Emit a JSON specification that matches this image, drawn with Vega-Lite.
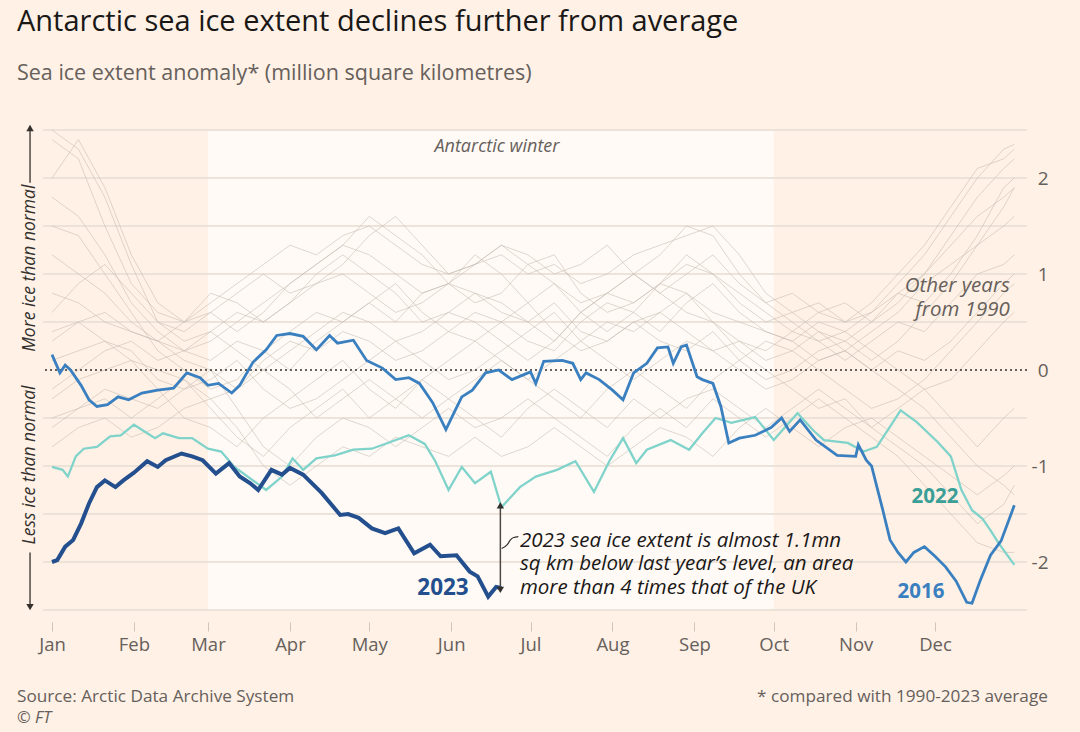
{
  "$schema": "https://vega.github.io/schema/vega-lite/v6.json",
  "width": 984,
  "height": 480,
  "autosize": {"type": "none"},
  "padding": {"left": 43, "top": 130, "right": 53, "bottom": 122},
  "background": "#fff1e5",
  "config": {"view": {"stroke": null}, "font": "Open Sans", "text": {"font": "Open Sans"}},
  "title": {
    "text": "Antarctic sea ice extent declines further from average",
    "subtitle": "Sea ice extent anomaly* (million square kilometres)",
    "anchor": "start", "frame": "group", "dx": -26, "offset": 40,
    "font": "Open Sans", "fontSize": 29, "fontWeight": "normal", "color": "#1a1817",
    "subtitleFont": "Open Sans", "subtitleFontSize": 21.5, "subtitleColor": "#66605c", "subtitlePadding": 26
  },
  "datasets": {
    "winter": [{"s": 59, "e": 273}],
    "grid": [{"v": 2.5}, {"v": 2}, {"v": 1.5}, {"v": 1}, {"v": 0.5}, {"v": -0.5}, {"v": -1}, {"v": -1.5}, {"v": -2}, {"v": -2.5}],
    "grey": [
      {"d":0,"a":2.4,"b":2.5,"c":1.8,"e":1.2,"f":0.8,"g":0.4,"h":0.1,"i":-0.2,"j":-0.5,"k":-0.8,"l":0.6,"m":1.5,"n":-0.3,"o":0.3,"p":2.0,"q":-0.6},
      {"d":10,"a":2.2,"b":2.3,"c":1.6,"e":1.0,"f":0.7,"g":0.5,"h":0.2,"i":0.0,"j":-0.4,"k":-0.6,"l":0.9,"m":1.4,"n":-0.1,"o":0.5,"p":2.4,"q":-0.4},
      {"d":20,"a":1.5,"b":1.8,"c":1.2,"e":0.8,"f":0.5,"g":0.3,"h":0.3,"i":0.2,"j":-0.2,"k":-0.5,"l":1.1,"m":1.0,"n":0.0,"o":0.6,"p":1.9,"q":-0.3},
      {"d":30,"a":0.9,"b":1.1,"c":0.7,"e":0.5,"f":0.4,"g":0.1,"h":0.2,"i":0.3,"j":-0.3,"k":-0.7,"l":0.8,"m":0.6,"n":0.1,"o":0.4,"p":1.2,"q":-0.5},
      {"d":40,"a":0.6,"b":0.5,"c":0.4,"e":0.3,"f":0.3,"g":0.0,"h":-0.1,"i":0.1,"j":-0.4,"k":-0.6,"l":0.5,"m":0.2,"n":-0.2,"o":0.3,"p":0.7,"q":-0.3},
      {"d":50,"a":0.5,"b":0.3,"c":0.2,"e":0.2,"f":0.1,"g":-0.1,"h":-0.2,"i":0.2,"j":-0.2,"k":-0.4,"l":0.4,"m":0.0,"n":-0.5,"o":0.5,"p":0.5,"q":-0.1},
      {"d":60,"a":0.7,"b":0.4,"c":0.3,"e":0.1,"f":0.0,"g":-0.3,"h":-0.1,"i":0.4,"j":0.0,"k":-0.3,"l":0.6,"m":-0.2,"n":-0.6,"o":0.8,"p":0.6,"q":-0.4},
      {"d":70,"a":0.9,"b":0.6,"c":0.5,"e":0.3,"f":-0.2,"g":-0.2,"h":0.1,"i":0.2,"j":-0.4,"k":-0.6,"l":0.8,"m":-0.1,"n":-0.8,"o":0.7,"p":0.4,"q":-0.7},
      {"d":80,"a":1.1,"b":0.5,"c":0.7,"e":0.2,"f":0.1,"g":0.0,"h":-0.2,"i":0.0,"j":-0.8,"k":-1.0,"l":1.0,"m":0.2,"n":-0.5,"o":0.5,"p":0.6,"q":-0.9},
      {"d":90,"a":1.3,"b":0.7,"c":0.9,"e":0.4,"f":0.3,"g":0.2,"h":-0.4,"i":-0.2,"j":-1.0,"k":-1.2,"l":0.8,"m":0.0,"n":-0.3,"o":0.7,"p":0.9,"q":-0.6},
      {"d":100,"a":1.2,"b":0.9,"c":1.1,"e":0.6,"f":0.2,"g":0.4,"h":-0.3,"i":-0.5,"j":-0.7,"k":-1.0,"l":0.9,"m":0.3,"n":-0.1,"o":1.0,"p":1.1,"q":-0.4},
      {"d":110,"a":1.4,"b":1.0,"c":1.3,"e":0.5,"f":0.4,"g":0.6,"h":-0.1,"i":-0.3,"j":-0.5,"k":-0.8,"l":1.1,"m":0.5,"n":0.1,"o":1.2,"p":1.3,"q":-0.2},
      {"d":120,"a":1.5,"b":0.8,"c":1.6,"e":0.7,"f":0.3,"g":0.5,"h":0.1,"i":-0.1,"j":-0.6,"k":-0.9,"l":1.4,"m":0.7,"n":-0.2,"o":1.0,"p":1.2,"q":-0.5},
      {"d":130,"a":1.3,"b":0.6,"c":1.4,"e":0.9,"f":0.1,"g":0.3,"h":0.3,"i":-0.3,"j":-0.8,"k":-0.7,"l":1.6,"m":0.5,"n":-0.4,"o":0.8,"p":1.0,"q":-0.3},
      {"d":140,"a":1.1,"b":0.7,"c":1.2,"e":0.6,"f":0.2,"g":0.4,"h":0.1,"i":-0.5,"j":-0.6,"k":-0.8,"l":1.3,"m":0.8,"n":-0.1,"o":0.5,"p":0.8,"q":-0.1},
      {"d":150,"a":1.0,"b":0.9,"c":0.9,"e":0.4,"f":0.4,"g":0.6,"h":-0.1,"i":-0.3,"j":-0.4,"k":-0.9,"l":1.0,"m":0.9,"n":0.1,"o":0.6,"p":0.9,"q":-0.3},
      {"d":160,"a":1.1,"b":0.8,"c":0.7,"e":0.3,"f":0.6,"g":0.5,"h":0.0,"i":-0.1,"j":-0.6,"k":-0.7,"l":1.1,"m":1.2,"n":0.3,"o":0.8,"p":1.1,"q":-0.5},
      {"d":170,"a":1.2,"b":0.6,"c":0.8,"e":0.5,"f":0.5,"g":0.3,"h":0.2,"i":0.1,"j":-0.5,"k":-0.9,"l":1.3,"m":1.0,"n":0.1,"o":0.7,"p":1.3,"q":-0.7},
      {"d":180,"a":1.0,"b":0.5,"c":1.1,"e":0.7,"f":0.3,"g":0.1,"h":0.4,"i":-0.1,"j":-0.3,"k":-0.8,"l":1.2,"m":0.7,"n":-0.1,"o":0.5,"p":1.1,"q":-0.4},
      {"d":190,"a":1.1,"b":0.7,"c":1.2,"e":0.4,"f":0.2,"g":0.3,"h":0.6,"i":-0.3,"j":-0.5,"k":-0.6,"l":1.0,"m":0.9,"n":0.1,"o":0.3,"p":0.9,"q":-0.2},
      {"d":200,"a":0.9,"b":0.4,"c":0.8,"e":0.2,"f":0.5,"g":0.6,"h":0.3,"i":-0.5,"j":-0.7,"k":-0.8,"l":1.1,"m":0.6,"n":0.3,"o":0.6,"p":0.7,"q":-0.4},
      {"d":210,"a":1.0,"b":0.3,"c":0.6,"e":0.3,"f":0.7,"g":0.8,"h":0.1,"i":-0.2,"j":-0.9,"k":-1.0,"l":1.3,"m":0.4,"n":0.5,"o":0.8,"p":0.8,"q":-0.6},
      {"d":220,"a":1.2,"b":0.5,"c":0.7,"e":0.5,"f":0.6,"g":1.0,"h":-0.1,"i":0.0,"j":-0.6,"k":-0.8,"l":1.0,"m":0.6,"n":0.4,"o":0.7,"p":1.0,"q":-0.3},
      {"d":230,"a":1.3,"b":0.6,"c":0.9,"e":0.3,"f":0.4,"g":0.8,"h":0.1,"i":-0.2,"j":-0.4,"k":-0.6,"l":0.8,"m":0.9,"n":0.6,"o":0.9,"p":1.2,"q":-0.5},
      {"d":240,"a":1.4,"b":0.4,"c":0.8,"e":0.2,"f":0.7,"g":0.6,"h":0.3,"i":-0.4,"j":-0.6,"k":-0.7,"l":1.0,"m":1.1,"n":0.8,"o":1.2,"p":1.5,"q":-0.3},
      {"d":250,"a":1.5,"b":0.2,"c":0.6,"e":0.4,"f":0.9,"g":0.5,"h":0.2,"i":-0.1,"j":-0.3,"k":-0.9,"l":1.2,"m":1.0,"n":0.5,"o":1.0,"p":1.4,"q":-0.2},
      {"d":260,"a":1.2,"b":0.3,"c":0.5,"e":0.1,"f":0.6,"g":0.3,"h":0.0,"i":0.1,"j":-0.5,"k":-0.6,"l":0.9,"m":0.7,"n":0.2,"o":0.8,"p":1.0,"q":-0.4},
      {"d":270,"a":0.8,"b":0.1,"c":0.4,"e":-0.1,"f":0.4,"g":0.2,"h":-0.2,"i":0.3,"j":-0.7,"k":-0.4,"l":0.7,"m":0.5,"n":0.0,"o":0.6,"p":0.7,"q":-0.6},
      {"d":280,"a":0.6,"b":0.2,"c":0.3,"e":0.0,"f":0.3,"g":0.4,"h":-0.1,"i":0.2,"j":-0.5,"k":-0.6,"l":0.5,"m":0.6,"n":-0.2,"o":0.4,"p":0.8,"q":-0.4},
      {"d":290,"a":0.7,"b":0.4,"c":0.1,"e":0.2,"f":0.5,"g":0.3,"h":0.1,"i":0.0,"j":-0.3,"k":-0.8,"l":0.3,"m":0.4,"n":-0.4,"o":0.6,"p":0.6,"q":-0.2},
      {"d":300,"a":0.5,"b":0.3,"c":0.2,"e":0.3,"f":0.4,"g":0.1,"h":0.2,"i":-0.2,"j":-0.5,"k":-0.6,"l":0.4,"m":0.2,"n":-0.3,"o":0.7,"p":0.5,"q":-0.4},
      {"d":310,"a":0.6,"b":0.5,"c":0.4,"e":0.1,"f":0.2,"g":0.3,"h":0.0,"i":-0.4,"j":-0.7,"k":-0.5,"l":0.6,"m":0.0,"n":-0.6,"o":0.5,"p":0.7,"q":-0.6},
      {"d":320,"a":0.9,"b":0.7,"c":0.6,"e":0.3,"f":0.0,"g":0.5,"h":-0.2,"i":-0.3,"j":-0.9,"k":-0.7,"l":0.8,"m":0.2,"n":-0.4,"o":0.8,"p":1.0,"q":-0.8},
      {"d":330,"a":1.2,"b":1.0,"c":0.9,"e":0.6,"f":-0.2,"g":0.4,"h":-0.4,"i":-0.1,"j":-1.2,"k":-0.9,"l":0.7,"m":0.1,"n":-0.2,"o":1.0,"p":1.3,"q":-1.0},
      {"d":340,"a":1.6,"b":1.4,"c":1.1,"e":0.9,"f":-0.1,"g":0.7,"h":-0.7,"i":0.2,"j":-1.5,"k":-1.1,"l":1.0,"m":0.3,"n":-0.5,"o":1.3,"p":1.7,"q":-1.3},
      {"d":350,"a":2.0,"b":1.8,"c":1.3,"e":1.3,"f":0.2,"g":1.0,"h":-1.0,"i":0.5,"j":-1.8,"k":-1.3,"l":1.4,"m":0.6,"n":-0.8,"o":1.6,"p":2.1,"q":-1.6},
      {"d":360,"a":2.3,"b":2.1,"c":1.5,"e":1.7,"f":0.5,"g":1.1,"h":-1.2,"i":0.8,"j":-1.9,"k":-1.1,"l":1.9,"m":0.9,"n":-0.5,"o":1.8,"p":2.2,"q":-1.4},
      {"d":364,"a":2.35,"b":2.2,"c":1.6,"e":1.9,"f":0.6,"g":1.2,"h":-1.3,"i":0.9,"j":-1.9,"k":-1.0,"l":2.0,"m":1.0,"n":-0.4,"o":1.9,"p":2.3,"q":-1.2}
    ],
    "y2023": [
      {"d":0,"v":-2.0},{"d":2,"v":-1.98},{"d":5,"v":-1.84},{"d":8,"v":-1.77},{"d":11,"v":-1.6},{"d":14,"v":-1.39},{"d":17,"v":-1.22},{"d":20,"v":-1.15},{"d":24,"v":-1.22},{"d":27,"v":-1.15},{"d":31,"v":-1.07},{"d":36,"v":-0.95},{"d":40,"v":-1.01},{"d":43,"v":-0.94},{"d":49,"v":-0.87},{"d":53,"v":-0.9},{"d":57,"v":-0.94},{"d":62,"v":-1.08},{"d":67,"v":-0.97},{"d":71,"v":-1.11},{"d":75,"v":-1.18},{"d":78,"v":-1.25},{"d":83,"v":-1.04},{"d":87,"v":-1.09},{"d":90,"v":-1.02},{"d":95,"v":-1.09},{"d":102,"v":-1.28},{"d":109,"v":-1.51},{"d":112,"v":-1.5},{"d":116,"v":-1.54},{"d":121,"v":-1.65},{"d":126,"v":-1.7},{"d":131,"v":-1.65},{"d":137,"v":-1.91},{"d":143,"v":-1.82},{"d":147,"v":-1.94},{"d":153,"v":-1.93},{"d":158,"v":-2.1},{"d":161,"v":-2.15},{"d":165,"v":-2.36},{"d":168,"v":-2.26},{"d":170,"v":-2.27}
    ],
    "y2022": [
      {"d":0,"v":-1.01},{"d":4,"v":-1.04},{"d":6,"v":-1.11},{"d":9,"v":-0.9},{"d":12,"v":-0.82},{"d":17,"v":-0.8},{"d":22,"v":-0.69},{"d":26,"v":-0.68},{"d":31,"v":-0.57},{"d":35,"v":-0.64},{"d":39,"v":-0.71},{"d":42,"v":-0.66},{"d":48,"v":-0.71},{"d":53,"v":-0.71},{"d":59,"v":-0.82},{"d":64,"v":-0.85},{"d":69,"v":-1.01},{"d":75,"v":-1.13},{"d":81,"v":-1.25},{"d":87,"v":-1.11},{"d":91,"v":-0.92},{"d":95,"v":-1.04},{"d":100,"v":-0.92},{"d":107,"v":-0.89},{"d":114,"v":-0.83},{"d":121,"v":-0.82},{"d":128,"v":-0.75},{"d":135,"v":-0.68},{"d":141,"v":-0.77},{"d":145,"v":-0.95},{"d":150,"v":-1.25},{"d":155,"v":-1.01},{"d":160,"v":-1.18},{"d":166,"v":-1.06},{"d":170,"v":-1.43},{"d":177,"v":-1.22},{"d":183,"v":-1.11},{"d":191,"v":-1.04},{"d":198,"v":-0.95},{"d":205,"v":-1.27},{"d":211,"v":-0.94},{"d":216,"v":-0.71},{"d":221,"v":-0.97},{"d":225,"v":-0.83},{"d":234,"v":-0.73},{"d":241,"v":-0.83},{"d":246,"v":-0.66},{"d":251,"v":-0.5},{"d":257,"v":-0.55},{"d":266,"v":-0.49},{"d":273,"v":-0.73},{"d":282,"v":-0.45},{"d":288,"v":-0.63},{"d":292,"v":-0.73},{"d":301,"v":-0.76},{"d":307,"v":-0.85},{"d":312,"v":-0.8},{"d":321,"v":-0.42},{"d":327,"v":-0.54},{"d":335,"v":-0.75},{"d":340,"v":-0.9},{"d":344,"v":-1.25},{"d":348,"v":-1.46},{"d":352,"v":-1.55},{"d":355,"v":-1.67},{"d":358,"v":-1.8},{"d":364,"v":-2.03}
    ],
    "y2016": [
      {"d":0,"v":0.16},{"d":3,"v":-0.03},{"d":5,"v":0.05},{"d":7,"v":0.0},{"d":11,"v":-0.16},{"d":14,"v":-0.31},{"d":17,"v":-0.38},{"d":21,"v":-0.36},{"d":25,"v":-0.28},{"d":29,"v":-0.31},{"d":34,"v":-0.24},{"d":40,"v":-0.21},{"d":46,"v":-0.19},{"d":51,"v":-0.03},{"d":56,"v":-0.08},{"d":59,"v":-0.16},{"d":63,"v":-0.14},{"d":68,"v":-0.24},{"d":71,"v":-0.16},{"d":76,"v":0.08},{"d":81,"v":0.21},{"d":85,"v":0.36},{"d":90,"v":0.38},{"d":95,"v":0.35},{"d":100,"v":0.21},{"d":105,"v":0.36},{"d":108,"v":0.28},{"d":114,"v":0.31},{"d":119,"v":0.1},{"d":125,"v":0.02},{"d":130,"v":-0.1},{"d":135,"v":-0.08},{"d":139,"v":-0.14},{"d":144,"v":-0.34},{"d":149,"v":-0.62},{"d":152,"v":-0.45},{"d":155,"v":-0.28},{"d":159,"v":-0.21},{"d":164,"v":-0.03},{"d":169,"v":0.0},{"d":174,"v":-0.1},{"d":181,"v":-0.02},{"d":183,"v":-0.14},{"d":186,"v":0.09},{"d":193,"v":0.1},{"d":197,"v":0.07},{"d":200,"v":-0.1},{"d":202,"v":-0.03},{"d":207,"v":-0.1},{"d":212,"v":-0.21},{"d":216,"v":-0.31},{"d":220,"v":-0.03},{"d":225,"v":0.07},{"d":229,"v":0.23},{"d":233,"v":0.24},{"d":235,"v":0.07},{"d":238,"v":0.24},{"d":240,"v":0.26},{"d":244,"v":-0.07},{"d":246,"v":-0.1},{"d":250,"v":-0.14},{"d":253,"v":-0.38},{"d":256,"v":-0.76},{"d":260,"v":-0.71},{"d":266,"v":-0.68},{"d":272,"v":-0.6},{"d":276,"v":-0.5},{"d":279,"v":-0.64},{"d":283,"v":-0.52},{"d":289,"v":-0.73},{"d":297,"v":-0.89},{"d":304,"v":-0.9},{"d":305,"v":-0.78},{"d":308,"v":-0.94},{"d":310,"v":-1.0},{"d":314,"v":-1.43},{"d":317,"v":-1.77},{"d":320,"v":-1.9},{"d":323,"v":-2.0},{"d":326,"v":-1.9},{"d":330,"v":-1.84},{"d":334,"v":-1.94},{"d":338,"v":-2.05},{"d":342,"v":-2.2},{"d":346,"v":-2.42},{"d":348,"v":-2.43},{"d":351,"v":-2.2},{"d":355,"v":-1.93},{"d":359,"v":-1.78},{"d":364,"v":-1.41}
    ],
    "side": [
      {"d":-8.3,"v":1.06,"t":"More ice than normal"},
      {"d":-8.3,"v":-0.99,"t":"Less ice than normal"}
    ],
    "arrows": [
      {"d":-8.3,"v":1.95,"v2":2.5},
      {"d":-8.3,"v":-1.9,"v2":-2.45},
      {"d":169.6,"v":-1.4,"v2":-2.3}
    ],
    "heads": [
      {"d":-8.3,"v":2.52,"s":"triangle-up"},
      {"d":-8.3,"v":-2.47,"s":"triangle-down"},
      {"d":169.6,"v":-1.41,"s":"triangle-up"},
      {"d":169.6,"v":-2.29,"s":"triangle-down"}
    ],
    "bracket": [
      {"d":170.1,"v":-1.86},{"d":172.2,"v":-1.82},{"d":173.4,"v":-1.77},{"d":174.6,"v":-1.745},{"d":176.4,"v":-1.735}
    ]
  },
  "layer": [
    {
      "data": {"name": "winter"},
      "mark": {"type": "rect", "fill": "#ffffff", "opacity": 0.62},
      "encoding": {
        "x": {"field": "s", "type": "quantitative", "scale": {"domain": [-3.4, 368.8]}},
        "x2": {"field": "e"}
      }
    },
    {
      "data": {"name": "grid"},
      "mark": {"type": "rule", "stroke": "#e6dcd2", "strokeWidth": 1.5},
      "encoding": {
        "y": {"field": "v", "type": "quantitative", "scale": {"domain": [-2.5, 2.5]}}
      }
    },
    {
      "data": {"name": "grey"},
      "transform": [{"fold": ["a","b","c","e","f","g","h","i","j","k","l","m","n","o","p","q"], "as": ["yr", "v"]}],
      "mark": {"type": "line", "stroke": "#c3b9b0", "strokeWidth": 1, "opacity": 0.55},
      "encoding": {
        "x": {"field": "d", "type": "quantitative", "scale": {"domain": [-3.4, 368.8]},
          "axis": {"title": null, "values": [0,31,59,90,120,151,181,212,243,273,304,334],
            "labelExpr": "timeFormat(datetime(2023,0,1+datum.value),'%b')",
            "domain": false, "grid": false, "ticks": true, "tickSize": 9, "tickColor": "#cfc5bb", "tickWidth": 1,
            "offset": 12, "labelPadding": 4, "labelFont": "Open Sans", "labelFontSize": 18.5, "labelColor": "#66605c"}},
        "y": {"field": "v", "type": "quantitative", "scale": {"domain": [-2.5, 2.5]},
          "axis": {"title": null, "orient": "right", "values": [-2,-1,0,1,2],
            "labelExpr": "datum.value < 0 ? '-' + abs(datum.value) : '' + datum.value",
            "domain": false, "grid": false, "ticks": false, "tickSize": 0, "labelAlign": "right", "labelPadding": 21,
            "labelFont": "Open Sans", "labelFontSize": 19, "labelColor": "#66605c"}},
        "detail": {"field": "yr"}
      }
    },
    {
      "data": {"values": [{}]},
      "mark": {"type": "rule", "stroke": "#33302e", "strokeWidth": 1.3, "strokeDash": [2, 3]},
      "encoding": {"y": {"datum": 0, "type": "quantitative", "scale": {"domain": [-2.5, 2.5]}}}
    },
    {
      "data": {"name": "y2022"},
      "mark": {"type": "line", "stroke": "#7fd3ca", "strokeWidth": 2.3},
      "encoding": {
        "x": {"field": "d", "type": "quantitative", "scale": {"domain": [-3.4, 368.8]}},
        "y": {"field": "v", "type": "quantitative", "scale": {"domain": [-2.5, 2.5]}}
      }
    },
    {
      "data": {"name": "y2016"},
      "mark": {"type": "line", "stroke": "#3a80c0", "strokeWidth": 2.8},
      "encoding": {
        "x": {"field": "d", "type": "quantitative", "scale": {"domain": [-3.4, 368.8]}},
        "y": {"field": "v", "type": "quantitative", "scale": {"domain": [-2.5, 2.5]}}
      }
    },
    {
      "data": {"name": "y2023"},
      "mark": {"type": "line", "stroke": "#234f8e", "strokeWidth": 4},
      "encoding": {
        "x": {"field": "d", "type": "quantitative", "scale": {"domain": [-3.4, 368.8]}},
        "y": {"field": "v", "type": "quantitative", "scale": {"domain": [-2.5, 2.5]}}
      }
    },
    {
      "data": {"name": "arrows"},
      "mark": {"type": "rule", "stroke": "#4d4845", "strokeWidth": 1.5},
      "encoding": {
        "x": {"field": "d", "type": "quantitative", "scale": {"domain": [-3.4, 368.8]}},
        "y": {"field": "v", "type": "quantitative", "scale": {"domain": [-2.5, 2.5]}},
        "y2": {"field": "v2"}
      }
    },
    {
      "data": {"name": "heads"},
      "mark": {"type": "point", "filled": true, "fill": "#33302e", "opacity": 1, "size": 55, "strokeWidth": 0},
      "encoding": {
        "x": {"field": "d", "type": "quantitative", "scale": {"domain": [-3.4, 368.8]}},
        "y": {"field": "v", "type": "quantitative", "scale": {"domain": [-2.5, 2.5]}},
        "shape": {"field": "s", "type": "nominal", "scale": null, "legend": null}
      }
    },
    {
      "data": {"name": "bracket"},
      "mark": {"type": "line", "stroke": "#33302e", "strokeWidth": 1.2, "interpolate": "monotone"},
      "encoding": {
        "x": {"field": "d", "type": "quantitative", "scale": {"domain": [-3.4, 368.8]}},
        "y": {"field": "v", "type": "quantitative", "scale": {"domain": [-2.5, 2.5]}}
      }
    },
    {
      "data": {"values": [{"d":168.3,"v":2.32,"t":"Antarctic winter"}]},
      "mark": {"type": "text", "font": "Open Sans", "fontStyle": "italic", "fontSize": 18, "color": "#66605c", "align": "center", "baseline": "middle"},
      "encoding": {
        "x": {"field": "d", "type": "quantitative", "scale": {"domain": [-3.4, 368.8]}},
        "y": {"field": "v", "type": "quantitative", "scale": {"domain": [-2.5, 2.5]}},
        "text": {"field": "t"}
      }
    },
    {
      "data": {"values": [{"d":362.3,"v":0.875,"t":["Other years","from 1990"]}]},
      "mark": {"type": "text", "font": "Open Sans", "fontStyle": "italic", "fontSize": 20.5, "lineHeight": 23.5, "color": "#66605c", "align": "right", "baseline": "middle"},
      "encoding": {
        "x": {"field": "d", "type": "quantitative", "scale": {"domain": [-3.4, 368.8]}},
        "y": {"field": "v", "type": "quantitative", "scale": {"domain": [-2.5, 2.5]}},
        "text": {"field": "t"}
      }
    },
    {
      "data": {"values": [{"d":177,"v":-1.78,"t":["2023 sea ice extent is almost 1.1mn","sq km below last year’s level, an area","more than 4 times that of the UK"]}]},
      "mark": {"type": "text", "font": "Open Sans", "fontStyle": "italic", "fontSize": 20.5, "lineHeight": 23.5, "color": "#1a1817", "align": "left", "baseline": "middle"},
      "encoding": {
        "x": {"field": "d", "type": "quantitative", "scale": {"domain": [-3.4, 368.8]}},
        "y": {"field": "v", "type": "quantitative", "scale": {"domain": [-2.5, 2.5]}},
        "text": {"field": "t"}
      }
    },
    {
      "data": {"name": "side"},
      "mark": {"type": "text", "font": "Open Sans", "fontStyle": "italic", "fontSize": 17.5, "color": "#33302e", "align": "center", "baseline": "middle", "angle": 270},
      "encoding": {
        "x": {"field": "d", "type": "quantitative", "scale": {"domain": [-3.4, 368.8]}},
        "y": {"field": "v", "type": "quantitative", "scale": {"domain": [-2.5, 2.5]}},
        "text": {"field": "t"}
      }
    },
    {
      "data": {"values": [{"d":147.9,"v":-2.27,"t":"2023"}]},
      "mark": {"type": "text", "font": "Open Sans", "fontWeight": "bold", "fontSize": 22.5, "color": "#234f8e", "align": "center", "baseline": "middle"},
      "encoding": {
        "x": {"field": "d", "type": "quantitative", "scale": {"domain": [-3.4, 368.8]}},
        "y": {"field": "v", "type": "quantitative", "scale": {"domain": [-2.5, 2.5]}},
        "text": {"field": "t"}
      }
    },
    {
      "data": {"values": [{"d":334,"v":-1.32,"t":"2022"}]},
      "mark": {"type": "text", "font": "Open Sans", "fontWeight": "bold", "fontSize": 20.5, "color": "#3b9f97", "align": "center", "baseline": "middle"},
      "encoding": {
        "x": {"field": "d", "type": "quantitative", "scale": {"domain": [-3.4, 368.8]}},
        "y": {"field": "v", "type": "quantitative", "scale": {"domain": [-2.5, 2.5]}},
        "text": {"field": "t"}
      }
    },
    {
      "data": {"values": [{"d":328.7,"v":-2.31,"t":"2016"}]},
      "mark": {"type": "text", "font": "Open Sans", "fontWeight": "bold", "fontSize": 20.5, "color": "#3a80c0", "align": "center", "baseline": "middle"},
      "encoding": {
        "x": {"field": "d", "type": "quantitative", "scale": {"domain": [-3.4, 368.8]}},
        "y": {"field": "v", "type": "quantitative", "scale": {"domain": [-2.5, 2.5]}},
        "text": {"field": "t"}
      }
    },
    {
      "data": {"values": [{"d":-13.24,"v":-3.406,"t":"Source: Arctic Data Archive System"}]},
      "mark": {"type": "text", "font": "Open Sans", "fontSize": 17.2, "color": "#66605c", "align": "left", "baseline": "middle"},
      "encoding": {
        "x": {"field": "d", "type": "quantitative", "scale": {"domain": [-3.4, 368.8]}},
        "y": {"field": "v", "type": "quantitative", "scale": {"domain": [-2.5, 2.5]}},
        "text": {"field": "t"}
      }
    },
    {
      "data": {"values": [{"d":-13.24,"v":-3.63,"t":"© FT"}]},
      "mark": {"type": "text", "font": "Open Sans", "fontStyle": "italic", "fontSize": 16.5, "color": "#66605c", "align": "left", "baseline": "middle"},
      "encoding": {
        "x": {"field": "d", "type": "quantitative", "scale": {"domain": [-3.4, 368.8]}},
        "y": {"field": "v", "type": "quantitative", "scale": {"domain": [-2.5, 2.5]}},
        "text": {"field": "t"}
      }
    },
    {
      "data": {"values": [{"d":376.7,"v":-3.406,"t":"* compared with 1990-2023 average"}]},
      "mark": {"type": "text", "font": "Open Sans", "fontSize": 17.2, "color": "#66605c", "align": "right", "baseline": "middle"},
      "encoding": {
        "x": {"field": "d", "type": "quantitative", "scale": {"domain": [-3.4, 368.8]}},
        "y": {"field": "v", "type": "quantitative", "scale": {"domain": [-2.5, 2.5]}},
        "text": {"field": "t"}
      }
    }
  ]
}
